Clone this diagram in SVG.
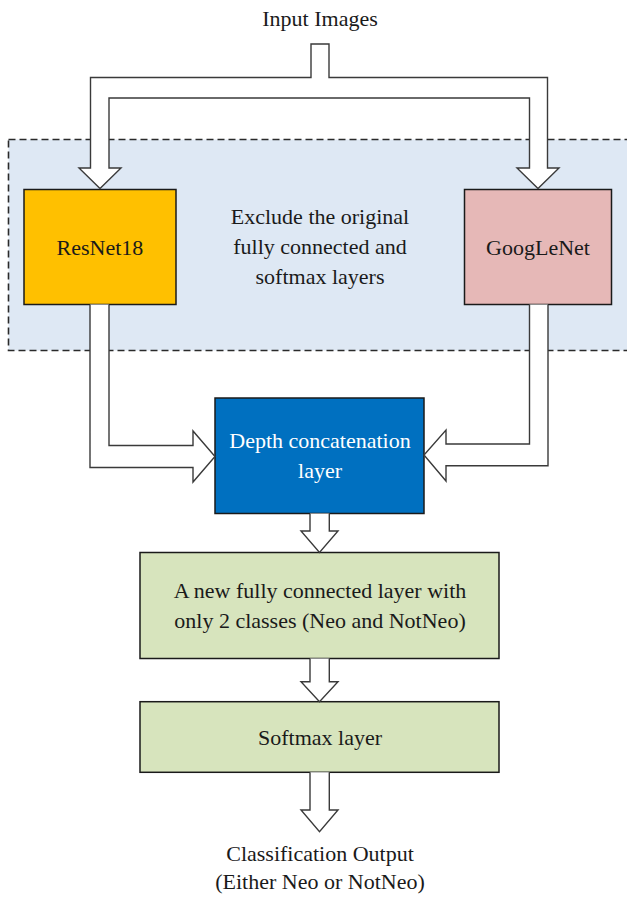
<svg xmlns="http://www.w3.org/2000/svg" width="627" height="900" viewBox="0 0 627 900">
<style>
  .t { font-family: "Liberation Serif", "Times New Roman", serif; font-size: 22px; fill: #1a1a1a; text-anchor: middle; }
  .w { fill: #ffffff; }
  .box { stroke: #1a1a1a; stroke-width: 1.5; }
  .arrow { fill: #ffffff; stroke: #3a3a3a; stroke-width: 1.4; stroke-linejoin: miter; }
</style>
<rect width="627" height="900" fill="#ffffff"/>

<g id="region">
  <rect x="8.5" y="139.5" width="640" height="211" fill="#DEE8F4" stroke="#2a2a2a" stroke-width="1.6" stroke-dasharray="7,4"/>
  <text class="t" x="320" y="224">Exclude the original</text>
  <text class="t" x="320" y="254">fully connected and</text>
  <text class="t" x="320" y="284">softmax layers</text>
</g>

<g id="input">
  <text class="t" x="320" y="26">Input Images</text>
</g>

<g id="resnet">
  <rect class="box" x="24" y="189.5" width="152" height="115" fill="#FFC000"/>
  <text class="t" x="100" y="255">ResNet18</text>
</g>

<g id="googlenet">
  <rect class="box" x="464.5" y="189.5" width="147" height="115" fill="#E6B8B7"/>
  <text class="t" x="538" y="255">GoogLeNet</text>
</g>

<g id="depth">
  <rect class="box" x="215" y="398" width="209" height="115.5" fill="#0070C0"/>
  <text class="t w" x="320" y="448">Depth concatenation</text>
  <text class="t w" x="320" y="478">layer</text>
</g>

<g id="fc">
  <rect class="box" x="140" y="552.5" width="359" height="106" fill="#D7E4BD"/>
  <text class="t" x="320" y="598">A new fully connected layer with</text>
  <text class="t" x="320" y="628">only 2 classes (Neo and NotNeo)</text>
</g>

<g id="softmax">
  <rect class="box" x="140" y="701.7" width="359" height="70.6" fill="#D7E4BD"/>
  <text class="t" x="320" y="745">Softmax layer</text>
</g>

<g id="output">
  <text class="t" x="320" y="861">Classification Output</text>
  <text class="t" x="320" y="889">(Either Neo or NotNeo)</text>
</g>

<g id="connectors">
  <path class="arrow" d="M311,44 L311,77.5 L90.5,77.5 L90.5,168 L79,168 L100,188.5 L121,168 L109,168 L109,98 L529.5,98 L529.5,168 L517,168 L538,188.5 L559,168 L547.5,168 L547.5,77.5 L329,77.5 L329,44 Z"/>
  <path class="arrow" d="M90,304.5 L90,467.5 L193,467.5 L193,482 L215,456.5 L193,431 L193,445.5 L109,445.5 L109,304.5"/>
  <path class="arrow" d="M548,304.5 L548,465.7 L446,465.7 L446,481 L424,455 L446,430 L446,444 L529.5,444 L529.5,304.5"/>
  <path class="arrow" d="M310,513.5 L310,531 L301,531 L319.5,552.5 L338,531 L329.3,531 L329.3,513.5"/>
  <path class="arrow" d="M310,658.5 L310,681.7 L301,681.7 L319.5,701.7 L338,681.7 L329.3,681.7 L329.3,658.5"/>
  <path class="arrow" d="M310,772.3 L310,810 L301,810 L319.5,831.7 L338,810 L329.3,810 L329.3,772.3"/>
</g>
</svg>
